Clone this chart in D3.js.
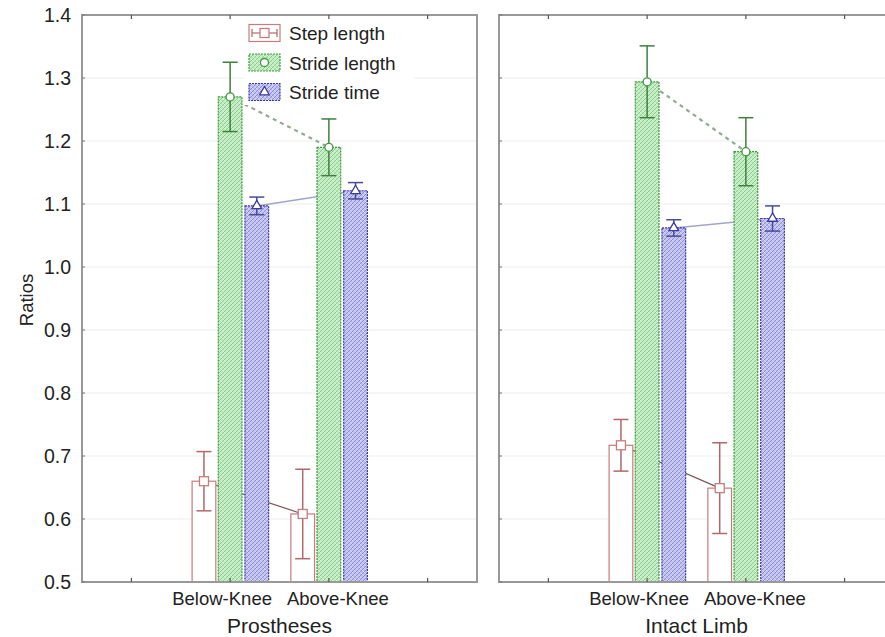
<!DOCTYPE html>
<html>
<head>
<meta charset="utf-8">
<script src="https://cdn.jsdelivr.net/npm/d3@7"></script>
<style>
  body { margin: 0; background: #fff; }
  text { font-family: "Liberation Sans", Arial, sans-serif; fill: #222; }
</style>
</head>
<body>
<div id="chart"></div>
<script>
const panels = ["Prostheses", "Intact Limb"];
const groups = ["Below-Knee", "Above-Knee"];
const seriesNames = ["Step length", "Stride length", "Stride time"];
const yTicks = [0.5, 0.6, 0.7, 0.8, 0.9, 1.0, 1.1, 1.2, 1.3, 1.4];

// [panel][group]
const stepMean = [[0.66, 0.608], [0.717, 0.649]];
const stepErr = [[0.047, 0.071], [0.041, 0.072]];
const strideLenMean = [[1.27, 1.19], [1.294, 1.183]];
const strideLenErr = [[0.055, 0.045], [0.057, 0.054]];
const strideTimeMean = [[1.097, 1.121], [1.062, 1.077]];
const strideTimeErr = [[0.014, 0.013], [0.013, 0.02]];

const width = 885, height = 637;
const panelLeft = [82, 499];
const panelW = 395;
const plotTop = 15, plotBottom = 582;

const svg = d3.select("#chart").append("svg")
  .attr("width", width).attr("height", height);

const defs = svg.append("defs");
function hatch(id, bg, c1, c2) {
  const p = defs.append("pattern").attr("id", id)
    .attr("width", 4).attr("height", 4)
    .attr("patternUnits", "userSpaceOnUse");
  p.append("rect").attr("width", 4).attr("height", 4).attr("fill", bg);
  p.append("path").attr("d", "M0,4 L4,0").attr("stroke", c1).attr("stroke-width", 1);
  p.append("path").attr("d", "M0,0 L4,4").attr("stroke", c2).attr("stroke-width", 0.6);
}
hatch("pGreen", "#c0eac0", "#8ccc8c", "#e6f7e6");
hatch("pBlue", "#c0c0f0", "#8c8cd8", "#e4e4fa");

const y = d3.scaleLinear().domain([0.5, 1.4]).range([plotBottom, plotTop]);

const series = [
  { name: seriesNames[0], mean: stepMean, err: stepErr, off: -0.265, fill: "#fff",
    stroke: "#c87c7c", dash: null, ebar: "#b06868", line: "#7a5656", lineDash: null, lineW: 1.2, marker: "square" },
  { name: seriesNames[1], mean: strideLenMean, err: strideLenErr, off: 0, fill: "url(#pGreen)",
    stroke: "#3f9a3f", dash: "2,1", ebar: "#3f7f3f", line: "#93aa93", lineDash: "4,4", lineW: 2.2, marker: "circle" },
  { name: seriesNames[2], mean: strideTimeMean, err: strideTimeErr, off: 0.27, fill: "url(#pBlue)",
    stroke: "#3a3aa0", dash: "2,1", ebar: "#4a4a9a", line: "#a0a6c8", lineDash: null, lineW: 1.5, marker: "triangle" }
];

function drawMarker(g, type, cx, cy, color) {
  if (type === "square") {
    g.append("rect").attr("x", cx - 4.5).attr("y", cy - 4.5).attr("width", 9).attr("height", 9)
      .attr("fill", "#fff").attr("stroke", color).attr("stroke-width", 1.3);
  } else if (type === "circle") {
    g.append("circle").attr("cx", cx).attr("cy", cy).attr("r", 4)
      .attr("fill", "#fff").attr("stroke", color).attr("stroke-width", 1.3);
  } else {
    g.append("path").attr("d", d3.symbol(d3.symbolTriangle, 40)())
      .attr("transform", `translate(${cx},${cy})`)
      .attr("fill", "#fff").attr("stroke", color).attr("stroke-width", 1.3);
  }
}

panels.forEach((pname, pi) => {
  const x0 = panelLeft[pi];
  const x = d3.scaleLinear().domain([0.5, 4.5]).range([x0, x0 + panelW]);
  const barW = x(0.74) - x(0.5);
  const g = svg.append("g");

  // grid
  g.selectAll(".grid").data(yTicks.slice(1, -1)).join("line")
    .attr("x1", x0).attr("x2", x0 + panelW)
    .attr("y1", d => y(d)).attr("y2", d => y(d))
    .attr("stroke", "#ededed").attr("stroke-width", 1);

  // connecting lines (under the bars)
  series.forEach(s => {
    g.append("line")
      .attr("x1", x(2 + s.off)).attr("y1", y(s.mean[pi][0]))
      .attr("x2", x(3 + s.off)).attr("y2", y(s.mean[pi][1]))
      .attr("stroke", s.line).attr("stroke-width", s.lineW)
      .attr("stroke-dasharray", s.lineDash);
  });

  // bars
  series.forEach(s => {
    g.selectAll(null).data(groups).join("rect")
      .attr("x", (d, i) => x(2 + i + s.off) - barW / 2)
      .attr("y", (d, i) => y(s.mean[pi][i]))
      .attr("width", barW)
      .attr("height", (d, i) => y(0.5) - y(s.mean[pi][i]))
      .attr("fill", s.fill).attr("stroke", s.stroke).attr("stroke-width", 1.2)
      .attr("stroke-dasharray", s.dash);
  });

  // error bars and markers
  series.forEach(s => {
    groups.forEach((gname, i) => {
      const cx = x(2 + i + s.off);
      const m = s.mean[pi][i], e = s.err[pi][i];
      g.append("line").attr("x1", cx).attr("x2", cx)
        .attr("y1", y(m + e)).attr("y2", y(m - e))
        .attr("stroke", s.ebar).attr("stroke-width", 1.5);
      [m + e, m - e].forEach(v => {
        g.append("line").attr("x1", cx - 7.5).attr("x2", cx + 7.5)
          .attr("y1", y(v)).attr("y2", y(v))
          .attr("stroke", s.ebar).attr("stroke-width", 1.5);
      });
      drawMarker(g, s.marker, cx, y(m), s.stroke);
    });
  });

  // frame
  g.append("rect").attr("x", x0).attr("y", plotTop).attr("width", panelW).attr("height", plotBottom - plotTop)
    .attr("fill", "none").attr("stroke", "#999").attr("stroke-width", 2);

  // x ticks (top and bottom, inward)
  [1, 2, 3, 4].forEach(t => {
    g.append("line").attr("x1", x(t)).attr("x2", x(t)).attr("y1", plotBottom).attr("y2", plotBottom - 4)
      .attr("stroke", "#555").attr("stroke-width", 1.2);
    g.append("line").attr("x1", x(t)).attr("x2", x(t)).attr("y1", plotTop).attr("y2", plotTop + 4)
      .attr("stroke", "#555").attr("stroke-width", 1.2);
  });
  // y ticks inward
  g.selectAll(".yt").data(yTicks).join("line")
    .attr("x1", x0).attr("x2", x0 + 3)
    .attr("y1", d => y(d)).attr("y2", d => y(d))
    .attr("stroke", "#777");

  // category labels (pushed apart slightly so they don't collide)
  groups.forEach((gname, i) => {
    g.append("text").attr("x", x(2 + i) + (i === 0 ? -8 : 9)).attr("y", 605)
      .attr("text-anchor", "middle").attr("font-size", 18.5).text(gname);
  });
  g.append("text").attr("x", x(2.5)).attr("y", 633)
    .attr("text-anchor", "middle").attr("font-size", 21).text(pname);
});

// y axis labels
svg.selectAll(".ylab").data(yTicks).join("text")
  .attr("x", 71).attr("y", d => y(d) + 7)
  .attr("text-anchor", "end").attr("font-size", 19.5)
  .text(d => d3.format(".1f")(d));

svg.append("text")
  .attr("transform", "translate(33,300) rotate(-90)")
  .attr("text-anchor", "middle").attr("font-size", 18.5).text("Ratios");

// legend
const leg = svg.append("g");
leg.append("rect").attr("x", 244).attr("y", 21).attr("width", 170).attr("height", 84).attr("fill", "#fff");
series.forEach((s, i) => {
  const cy = 33 + i * 29.5;
  const lx = 249, lw = 31, lh = 17;
  leg.append("rect").attr("x", lx).attr("y", cy - lh / 2).attr("width", lw).attr("height", lh)
    .attr("fill", s.fill).attr("stroke", s.stroke).attr("stroke-width", 1.2)
    .attr("stroke-dasharray", s.dash);
  if (i === 0) {
    leg.append("line").attr("x1", lx + 3).attr("x2", lx + lw - 3).attr("y1", cy).attr("y2", cy)
      .attr("stroke", s.ebar).attr("stroke-width", 1.2);
    [lx + 3, lx + lw - 3].forEach(xx => {
      leg.append("line").attr("x1", xx).attr("x2", xx).attr("y1", cy - 4).attr("y2", cy + 4)
        .attr("stroke", s.ebar).attr("stroke-width", 1.2);
    });
  }
  drawMarker(leg, s.marker, lx + lw / 2, cy, s.stroke);
  leg.append("text").attr("x", 289).attr("y", cy + 7).attr("font-size", 19).text(s.name);
});
</script>
</body>
</html>
